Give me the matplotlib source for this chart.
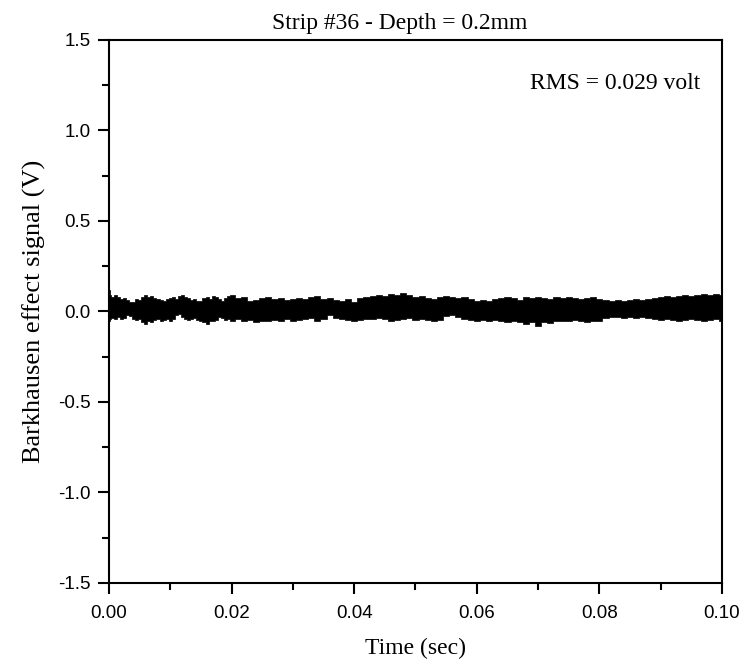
import numpy as np
import matplotlib
matplotlib.use("Agg")
import matplotlib.pyplot as plt

# envelope of the Barkhausen noise trace (time in ms, volts)
t_ms = [0.0, 0.2, 0.5, 1.0, 1.5, 2.0, 2.5, 3.0, 3.5, 4.0, 4.5, 5.0, 5.5, 6.0, 6.5, 7.0,
        7.5, 8.0, 8.5, 9.0, 9.5, 10.0, 10.5, 11.0, 11.5, 12.0, 12.5, 13.0, 13.5, 14.0,
        14.5, 15.0, 15.5, 16.0, 16.5, 17.0, 17.5, 18.0, 18.5, 19.0, 19.5, 20.0]
upper = [0.12, 0.09, 0.08, 0.09, 0.08, 0.07, 0.075, 0.065, 0.05, 0.055, 0.07, 0.065, 0.08,
         0.09, 0.08, 0.085, 0.075, 0.07, 0.065, 0.06, 0.07, 0.075, 0.08, 0.07, 0.085, 0.09,
         0.08, 0.075, 0.065, 0.07, 0.06, 0.06, 0.075, 0.08, 0.07, 0.085, 0.08, 0.07, 0.06,
         0.075, 0.085, 0.09]
lower = [-0.05, -0.04, -0.035, -0.04, -0.03, -0.04, -0.035, -0.02, -0.025, -0.04, -0.045,
         -0.04, -0.06, -0.07, -0.055, -0.06, -0.045, -0.04, -0.05, -0.045, -0.04, -0.05,
         -0.04, -0.02, -0.015, -0.03, -0.04, -0.045, -0.04, -0.035, -0.045, -0.05, -0.06,
         -0.07, -0.05, -0.055, -0.045, -0.03, -0.035, -0.045, -0.04, -0.05]
t2_ms = [20.0, 21.0, 22.0, 23.0, 24.0, 25.0, 26.0, 27.0, 28.0, 29.0, 30.0, 31.0, 32.0,
         33.0, 34.0, 35.0, 36.0, 37.0, 38.0, 39.0, 40.0]
upper2 = [0.09, 0.075, 0.08, 0.06, 0.065, 0.075, 0.08, 0.07, 0.075, 0.065, 0.07, 0.075,
          0.07, 0.08, 0.085, 0.07, 0.075, 0.065, 0.06, 0.07, 0.055]
lower2 = [-0.05, -0.04, -0.05, -0.045, -0.06, -0.05, -0.055, -0.045, -0.05, -0.04, -0.05,
          -0.045, -0.04, -0.035, -0.05, -0.04, -0.02, -0.035, -0.04, -0.045, -0.05]
t3_ms = [40.0, 41.0, 42.0, 43.0, 44.0, 45.0, 46.0, 47.0, 48.0, 49.0, 50.0, 51.0, 52.0,
         53.0, 54.0, 55.0, 56.0, 57.0, 58.0, 59.0, 60.0]
upper3 = [0.055, 0.075, 0.08, 0.085, 0.09, 0.085, 0.095, 0.09, 0.1, 0.09, 0.08, 0.085,
          0.075, 0.07, 0.08, 0.085, 0.08, 0.075, 0.08, 0.07, 0.06]
lower3 = [-0.05, -0.045, -0.04, -0.04, -0.035, -0.04, -0.05, -0.045, -0.04, -0.035,
          -0.045, -0.04, -0.045, -0.05, -0.045, -0.025, -0.02, -0.03, -0.04, -0.045, -0.05]
t4_ms = [61.0, 62.0, 63.0, 64.0, 65.0, 66.0, 67.0, 68.0, 69.0, 70.0, 71.0, 72.0, 73.0,
         74.0, 75.0, 76.0, 77.0, 78.0, 79.0, 80.0]
upper4 = [0.065, 0.06, 0.07, 0.075, 0.08, 0.075, 0.065, 0.08, 0.075, 0.08, 0.075, 0.07,
          0.08, 0.075, 0.08, 0.075, 0.07, 0.075, 0.08, 0.07]
lower4 = [-0.045, -0.05, -0.045, -0.055, -0.06, -0.05, -0.06, -0.07, -0.06, -0.08, -0.06,
          -0.065, -0.05, -0.055, -0.05, -0.045, -0.05, -0.06, -0.055, -0.05]
t5_ms = [81.0, 82.0, 83.0, 84.0, 85.0, 86.0, 87.0, 88.0, 89.0, 90.0, 91.0, 92.0, 93.0,
         94.0, 95.0, 96.0, 97.0, 98.0, 99.0, 100.0]
upper5 = [0.065, 0.06, 0.065, 0.06, 0.065, 0.07, 0.065, 0.07, 0.075, 0.08, 0.085, 0.08,
          0.085, 0.09, 0.085, 0.09, 0.095, 0.09, 0.095, 0.09]
lower5 = [-0.035, -0.03, -0.03, -0.035, -0.03, -0.035, -0.03, -0.035, -0.04, -0.045,
          -0.04, -0.045, -0.05, -0.045, -0.04, -0.045, -0.05, -0.045, -0.04, -0.05]

t = np.array(t_ms + t2_ms[1:] + t3_ms[1:] + t4_ms + t5_ms) / 1000.0
hi = np.array(upper + upper2[1:] + upper3[1:] + upper4 + upper5)
lo = np.array(lower + lower2[1:] + lower3[1:] + lower4 + lower5)

x_ticks = [0.00, 0.02, 0.04, 0.06, 0.08, 0.10]
y_ticks = [-1.5, -1.0, -0.5, 0.0, 0.5, 1.0, 1.5]

title = "Strip #36 - Depth = 0.2mm"
rms_text = "RMS = 0.029 volt"
xlabel = "Time (sec)"
ylabel = "Barkhausen effect signal (V)"

serif = ["Liberation Serif", "DejaVu Serif"]
sans = ["Liberation Sans", "DejaVu Sans"]

fig = plt.figure(figsize=(7.51, 6.63), dpi=100)
ax = fig.add_axes([0.1451, 0.1207, 0.8163, 0.819])

ax.fill_between(t, lo, hi, step="mid", color="black", linewidth=0.5, edgecolor="black")

ax.set_xlim(0, 0.1)
ax.set_ylim(-1.5, 1.5)
ax.set_xticks(x_ticks)
ax.set_xticks(np.arange(0, 0.1001, 0.01), minor=True)
ax.set_yticks(y_ticks)
ax.set_yticks(np.arange(-1.5, 1.501, 0.25), minor=True)
ax.set_xticklabels([f"{v:.2f}" for v in x_ticks])
ax.set_yticklabels([f"{v:.1f}" for v in y_ticks])
for lab in ax.get_xticklabels() + ax.get_yticklabels():
    lab.set_family(sans)
    lab.set_fontsize(13.5)

ax.tick_params(which="major", direction="out", length=8, width=1.5)
ax.tick_params(axis="x", which="major", pad=8)
ax.tick_params(axis="y", which="major", pad=5)
ax.tick_params(which="minor", direction="out", length=5, width=1.5)
for sp in ax.spines.values():
    sp.set_linewidth(1.5)

fig.text(400 / 751, 1 - 29 / 663, title, family=serif, fontsize=17,
         ha="center", va="baseline")
ax.set_xlabel(xlabel, family=serif, fontsize=17, labelpad=11)
ax.set_ylabel(ylabel, family=serif, fontsize=19, labelpad=9)
ax.text(0.964, 0.91, rms_text, transform=ax.transAxes, ha="right", va="baseline",
        family=serif, fontsize=17)

fig.savefig("out.png", dpi=100)
